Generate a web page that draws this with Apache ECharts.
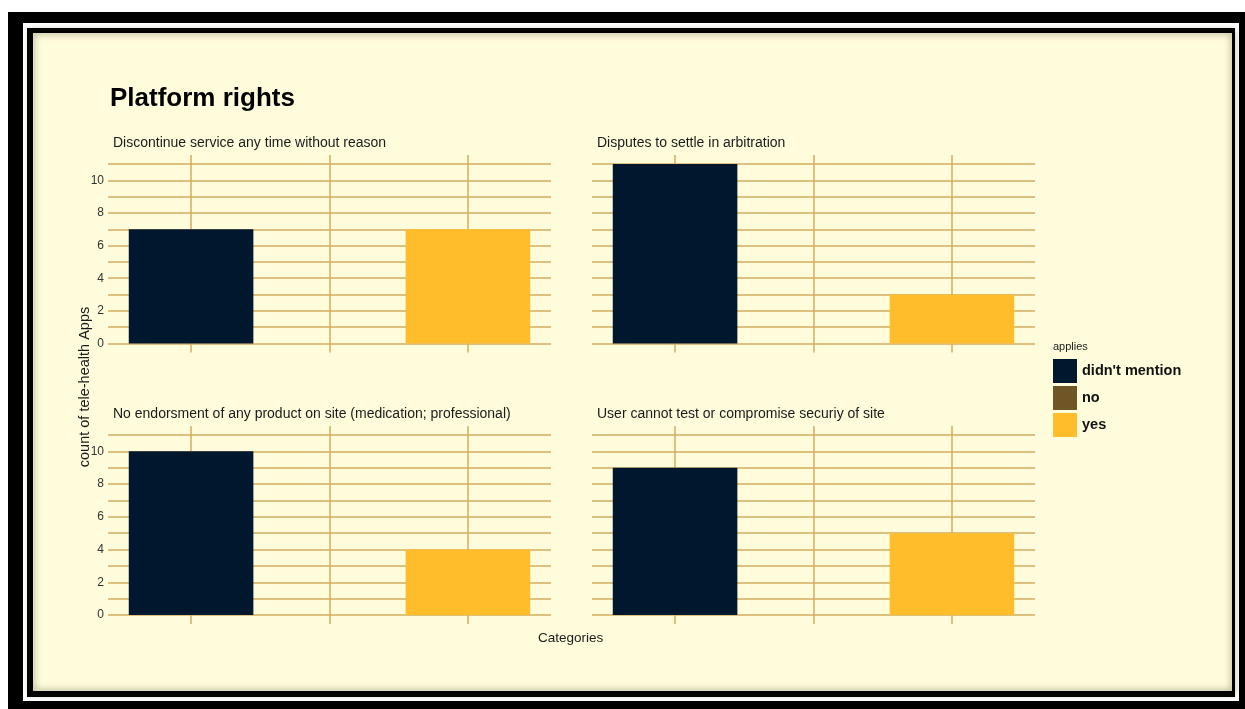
<!DOCTYPE html>
<html>
<head>
<meta charset="utf-8">
<script src="https://cdn.jsdelivr.net/npm/echarts@6/dist/echarts.min.js"></script>
<style>
html,body{margin:0;padding:0;background:#fff;}
#chart{width:1245px;height:709px;}
</style>
</head>
<body>
<div id="chart"></div>
<script>
// ---- data ----
const categories = ["didn't mention", "no", "yes"];
const facetTitles = [
  "Discontinue service any time without reason",
  "Disputes to settle in arbitration",
  "No endorsment of any product on site (medication; professional)",
  "User cannot test or compromise securiy of site"
];
const valuesDiscontinue = [7, 0, 7];
const valuesDisputes = [11, 0, 3];
const valuesEndorsement = [10, 0, 4];
const valuesSecurity = [9, 0, 5];
const yTickLabels = [0, 2, 4, 6, 8, 10];
const yGridValues = [0, 1, 2, 3, 4, 5, 6, 7, 8, 9, 10, 11];
const xPositions = [0, 1, 2];

const facetValues = [valuesDiscontinue, valuesDisputes, valuesEndorsement, valuesSecurity];

// ---- styling ----
const FONT = "'Liberation Sans', Arial, sans-serif";
const colors = ['#00172D', '#6E5626', '#FFBC2B'];
const gridColor = '#D3AC60';
const cream = '#FEFCDB';
const panels = [
  {left: 108, top: 155, width: 443, height: 197.5},
  {left: 592, top: 155, width: 443, height: 197.5},
  {left: 108, top: 426, width: 443, height: 198},
  {left: 592, top: 426, width: 443, height: 198}
];
const stripPos = [
  {left: 113, top: 136}, {left: 597, top: 136},
  {left: 113, top: 407}, {left: 597, top: 407}
];
const xMin = -0.6, xMax = 2.6, yMin = -0.55, yMax = 11.55;

const grids = [], xAxes = [], yAxes = [], series = [];
panels.forEach((p, i) => {
  grids.push({left: p.left, top: p.top, width: p.width, height: p.height, containLabel: false});
  xAxes.push({
    type: 'value', gridIndex: i, min: xMin, max: xMax,
    axisLine: {show: false},
    axisTick: {show: false, customValues: xPositions},
    axisLabel: {show: false, customValues: xPositions},
    splitLine: {show: true, lineStyle: {color: gridColor, width: 1.5}}
  });
  yAxes.push({
    type: 'value', gridIndex: i, min: yMin, max: yMax,
    axisLine: {show: false},
    axisTick: {show: false, customValues: yGridValues},
    axisLabel: {show: i % 2 === 0, customValues: yTickLabels, color: '#333333',
      fontSize: 12, fontFamily: FONT, margin: 4},
    splitLine: {show: true, lineStyle: {color: gridColor, width: 1.5}}
  });
  const unit = p.width / (xMax - xMin);
  categories.forEach((c, k) => {
    series.push({
      type: 'bar', name: c, xAxisIndex: i, yAxisIndex: i, stack: 'p' + i,
      barWidth: 0.9 * unit,
      itemStyle: {color: colors[k]},
      emphasis: {disabled: true},
      data: [[xPositions[k], facetValues[i][k]]]
    });
  });
});

const titles = [{
  text: 'Platform rights', left: 110, top: 86, padding: 0,
  textStyle: {fontSize: 26, fontWeight: 'bold', color: '#000', fontFamily: FONT}
}];
facetTitles.forEach((t, i) => {
  titles.push({
    text: t, left: stripPos[i].left, top: stripPos[i].top, padding: 0,
    textStyle: {fontSize: 14, fontWeight: 'normal', color: '#1a1a1a', fontFamily: FONT}
  });
});
titles.push({
  text: 'applies', left: 1053, top: 341, padding: 0,
  textStyle: {fontSize: 11, fontWeight: 'normal', color: '#1a1a1a', fontFamily: FONT}
});
titles.push({
  text: 'Categories', left: 538, top: 631, padding: 0,
  textStyle: {fontSize: 13.5, fontWeight: 'normal', color: '#1a1a1a', fontFamily: FONT}
});

const chart = echarts.init(document.getElementById('chart'), null, {renderer: 'canvas'});
chart.setOption({
  animation: false,
  backgroundColor: '#ffffff',
  graphic: [
    {type: 'rect', z: -10, shape: {x: 8, y: 12, width: 1237, height: 697}, style: {fill: '#000'}, silent: true},
    {type: 'rect', z: -9, shape: {x: 23, y: 23, width: 1216, height: 678}, style: {fill: '#fff'}, silent: true},
    {type: 'rect', z: -8, shape: {x: 27, y: 28, width: 1208, height: 669}, style: {fill: '#000'}, silent: true},
    {type: 'rect', z: -7, shape: {x: 33, y: 33, width: 1199, height: 658}, style: {fill: cream}, silent: true},
    {type: 'rect', z: -6, shape: {x: 32, y: 32, width: 1201, height: 660},
      style: {fill: 'none', stroke: '#000', lineWidth: 2, shadowBlur: 7, shadowColor: 'rgba(40,40,0,0.75)'}, silent: true},
    {type: 'text', x: 85, y: 387, rotation: Math.PI / 2, silent: true,
      style: {text: 'count of tele-health Apps', fill: '#1a1a1a', font: '14.5px ' + FONT,
        textAlign: 'center', textVerticalAlign: 'middle'}}
  ],
  title: titles,
  legend: {
    data: categories, orient: 'vertical', left: 1053, top: 359, padding: 0,
    itemWidth: 24, itemHeight: 24, itemGap: 3, icon: 'rect',
    selectedMode: false,
    textStyle: {fontSize: 14.5, fontWeight: 'bold', color: '#111', fontFamily: FONT, padding: [7, 0, 0, 0]}
  },
  grid: grids,
  xAxis: xAxes,
  yAxis: yAxes,
  series: series
});
</script>
</body>
</html>
